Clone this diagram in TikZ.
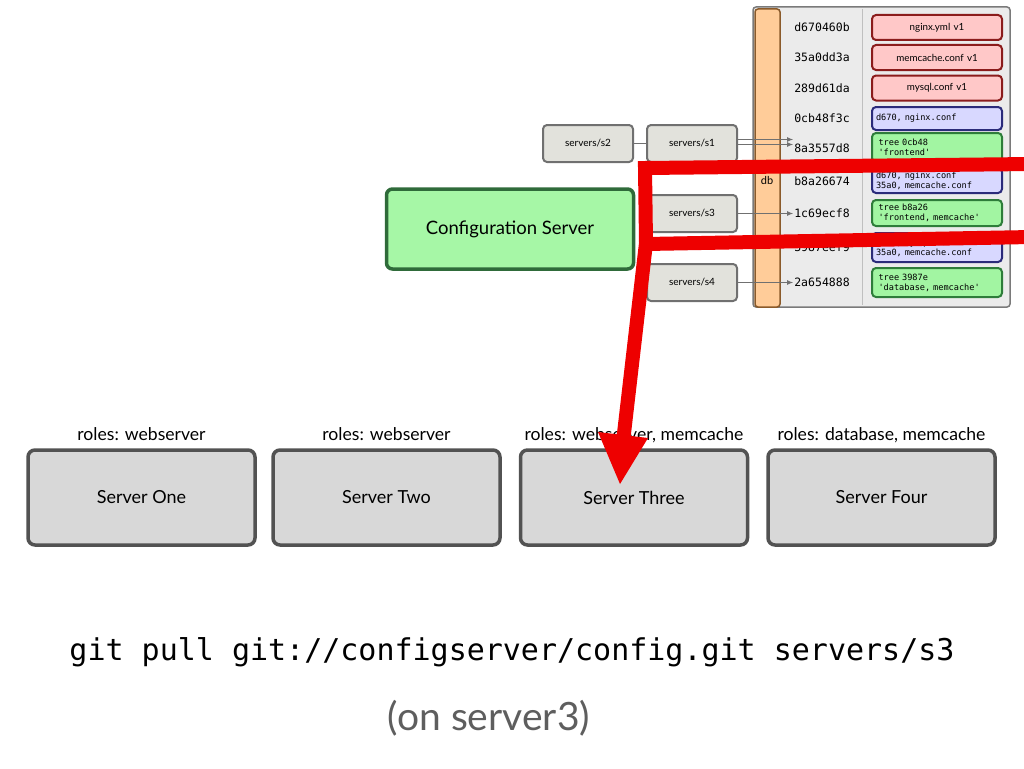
\documentclass[tikz,border=0pt]{standalone}
\usepackage{fontspec}
\setmainfont{Lato}
\setmonofont{DejaVu Sans Mono}
\usetikzlibrary{arrows.meta}
\definecolor{panelfill}{HTML}{EBEBEB}
\definecolor{paneldraw}{HTML}{7A7A7A}
\definecolor{dbfill}{HTML}{FFCC99}
\definecolor{dbdraw}{HTML}{8A5A2A}
\definecolor{redfill}{HTML}{FFC8C8}
\definecolor{reddraw}{HTML}{8B1C1C}
\definecolor{bluefill}{HTML}{D8D8FF}
\definecolor{bluedraw}{HTML}{2B2B7A}
\definecolor{greenfill}{HTML}{A2F5A2}
\definecolor{greendraw}{HTML}{2E7D3A}
\definecolor{reffill}{HTML}{E2E2DC}
\definecolor{refdraw}{HTML}{707070}
\definecolor{cfgfill}{HTML}{A6F7A6}
\definecolor{cfgdraw}{HTML}{2F6B3A}
\definecolor{srvfill}{HTML}{D8D8D8}
\definecolor{srvdraw}{HTML}{525252}
\definecolor{hilite}{HTML}{EE0000}
\definecolor{subgray}{HTML}{5E5E5E}
\tikzset{
  objbox/.style={rounded corners=4pt, line width=2pt, minimum width=130pt, text width=122pt, inner xsep=4pt, inner ysep=1pt, font=\fontsize{8.6}{10}\ttfamily},
  blobbox/.style={objbox, fill=redfill, draw=reddraw, align=center, minimum height=25pt, font=\fontsize{9.8}{11}\selectfont},
  treebox/.style={objbox, fill=bluefill, draw=bluedraw, align=left},
  commitbox/.style={objbox, fill=greenfill, draw=greendraw, align=left, text width=117pt, inner xsep=6.5pt},
  hashlbl/.style={inner sep=1pt, font=\fontsize{11.5}{13}\ttfamily},
  refbox/.style={rounded corners=4pt, line width=2pt, fill=reffill, draw=refdraw, minimum width=90pt, minimum height=37pt, font=\fontsize{10}{12}\selectfont},
  srvbox/.style={rounded corners=7pt, line width=3.5pt, fill=srvfill, draw=srvdraw, minimum width=227pt, minimum height=95pt, font=\fontsize{18}{21}\selectfont},
  rolelbl/.style={font=\fontsize{17.6}{20}\selectfont, inner sep=0pt},
  link/.style={draw=refdraw, line width=0.9pt},
  linkarrow/.style={link, -{Latex[length=6pt,width=5pt]}},
  redstroke/.style={draw=hilite, line width=14pt, line join=miter}
}
\begin{document}
\begin{tikzpicture}[x=1pt,y=-1pt]
\useasboundingbox (0,0) rectangle (1024,768);
% panel
\node[draw=paneldraw, fill=panelfill, line width=1.5pt, rounded corners=3pt, minimum width=257pt, minimum height=300pt, inner sep=0pt] (panel) at (881.5,157) {};
\node[draw=dbdraw, fill=dbfill, line width=1.5pt, rounded corners=3pt, minimum width=25pt, minimum height=298pt, inner sep=0pt] (dbbar) at (767.5,158) {};
\draw[draw=black!25, line width=0.8pt] (862,9) -- (862,305);
\node[font=\fontsize{11}{13}\selectfont, inner sep=0pt] (dblbl) at (767,180) {db};
% hashes
\node[hashlbl] (h1) at (822,27.5) {d670460b};
\node[hashlbl] (h2) at (822,57.5) {35a0dd3a};
\node[hashlbl] (h3) at (822,88) {289d61da};
\node[hashlbl] (h4) at (822,118.5) {0cb48f3c};
\node[hashlbl] (h5) at (822,148) {8a3557d8};
\node[hashlbl] (h6) at (822,181) {b8a26674};
\node[hashlbl] (h7) at (822,213.5) {1c69ecf8};
\node[hashlbl] (h8) at (822,247.5) {3987eef9};
\node[hashlbl] (h9) at (822,282.5) {2a654888};
% objects
\node[blobbox] (o1) at (937,27.5) {nginx.yml v1};
\node[blobbox] (o2) at (937,57.5) {memcache.conf v1};
\node[blobbox] (o3) at (937,88) {mysql.conf v1};
\node[treebox, minimum height=23pt] (o4) at (937,118.5) {d670, nginx.conf};
\node[commitbox, minimum height=29pt] (o5) at (937,147.5) {tree 0cb48\\'frontend'};
\node[treebox, minimum height=25pt] (o6) at (937,180.5) {d670, nginx.conf\\35a0, memcache.conf};
\node[commitbox, minimum height=26pt] (o7) at (937,213) {tree b8a26\\'frontend, memcache'};
\node[treebox, minimum height=29pt] (o8) at (937,247.5) {289d, mysql.conf\\35a0, memcache.conf};
\node[commitbox, minimum height=29pt] (o9) at (937,282.5) {tree 3987e\\'database, memcache'};
% refs
\node[refbox] (s2) at (588,143.5) {servers/s2};
\node[refbox] (s1) at (692,143.5) {servers/s1};
\node[refbox] (s3) at (692,213.5) {servers/s3};
\node[refbox] (s4) at (692,282.5) {servers/s4};
\draw[link] (s2.east) -- (s1.west);
\draw[linkarrow] ([yshift=-1pt]s1.east) -- ([yshift=-1pt]s1.east -| h5.west);
\draw[linkarrow] ([yshift=4pt]s1.east) -- ([yshift=4pt]s1.east -| h5.west);
\draw[linkarrow] (s3.east) -- (s3.east -| h7.west);
\draw[linkarrow] (s4.east) -- (s4.east -| h9.west);
% config server
\node[rounded corners=6pt, line width=3.5pt, fill=cfgfill, draw=cfgdraw, minimum width=247pt, minimum height=80pt, font=\fontsize{18.5}{22}\selectfont] (cfg) at (510,229) {Configuration Server};
% servers
\node[srvbox] (sv1) at (141.5,497.5) {Server One};
\node[srvbox] (sv2) at (386.5,497.5) {Server Two};
\node[srvbox] (sv3) at (634,497.5) {Server Three};
\node[srvbox] (sv4) at (881.5,497.5) {Server Four};
\node[rolelbl, anchor=base] (r1) at (141.5,440) {roles: webserver};
\node[rolelbl, anchor=base] (r2) at (386.5,440) {roles: webserver};
\node[rolelbl, anchor=base] (r3) at (634,440) {roles: webserver, memcache};
\node[rolelbl, anchor=base] (r4) at (881.5,440) {roles: database, memcache};
% command
\node[font=\fontsize{30}{34}\ttfamily, inner sep=0pt, anchor=base] (cmd) at (512,660) {git pull git://configserver/config.git servers/s3};
\node[font=\fontsize{39}{44}\selectfont, text=subgray, inner sep=0pt] (note) at (489,718) {(on server3)};
% red highlight
\coordinate (ra) at (1032,164);
\coordinate (rb) at (645,168);
\coordinate (rm) at (646,243);
\coordinate (rc) at (623,442);
\coordinate (rd) at (646,244);
\coordinate (re) at (1032,237);
\draw[redstroke] (ra) -- (rb) -- (rm) -- (rc);
\draw[redstroke] (rd) -- (re);
\fill[hilite] (598,432) -- (648,438) -- (620,484) -- cycle;
\end{tikzpicture}
\end{document}
